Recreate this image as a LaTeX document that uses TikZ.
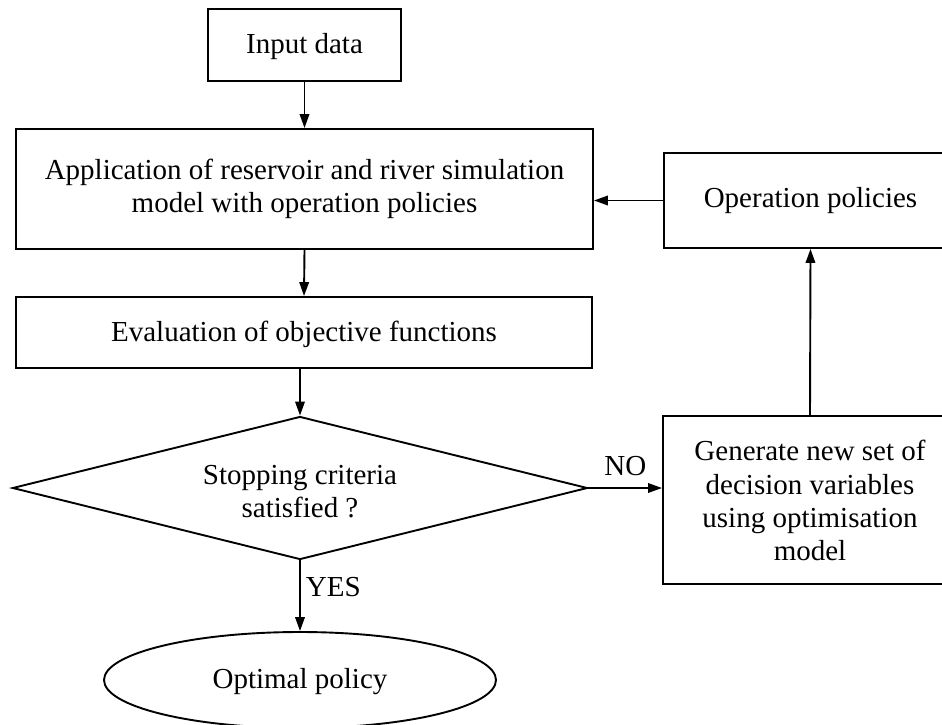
\documentclass[tikz,border=0pt]{standalone}
\usepackage{fontspec}
\setmainfont{Liberation Serif}
\usetikzlibrary{shapes.geometric,arrows.meta}
\tikzset{
  every node/.style={font=\fontsize{29}{33.3}\selectfont},
  box/.style={draw, line width=1.9pt, rectangle, align=center, inner sep=0pt},
  dia/.style={draw, line width=1.9pt, diamond, aspect=4, align=center, inner sep=0pt},
  oval/.style={draw, line width=1.9pt, ellipse, inner sep=0pt},
  flow/.style={line width=1.9pt, -{Triangle[length=14pt,width=9.5pt]}},
  lbl/.style={inner sep=0pt}
}
\begin{document}
\begin{tikzpicture}[x=1pt,y=-1pt]
\useasboundingbox (0,0) rectangle (942,724);
\fill[white] (0,0) rectangle (942,724);
\node[box, minimum width=193pt, minimum height=72pt] (in) at (304.5,45) {\rule{0pt}{24pt}Input data};
\node[box, minimum width=577pt, minimum height=120pt] (app) at (304.5,189) {Application of reservoir and river simulation\\model with operation policies};
\node[box, minimum width=576pt, minimum height=71pt] (eval) at (304,332.5) {\rule{0pt}{25pt}Evaluation of objective functions};
\node[dia, minimum width=575pt, minimum height=143pt] (stop) at (300,488) {\rule{0pt}{27pt}Stopping criteria\\satisfied ?};
\node[oval, minimum width=392pt, minimum height=96pt] (opt) at (300,680) {\rule{0pt}{24pt}Optimal policy};
\node[box, minimum width=293pt, minimum height=95pt] (op) at (810.5,200.5) {Operation policies};
\node[box, minimum width=294pt, minimum height=168pt] (gen) at (810,500) {\rule{0pt}{22pt}Generate new set of\\decision variables\\using optimisation\\model};
\draw[flow] (in.south) -- (app.north);
\draw[flow] (app.south) -- (eval.north);
\draw[flow] (stop.north |- eval.south) -- (stop.north);
\draw[flow] (stop.east) -- node[lbl, above=11pt] {NO} (gen.west |- stop.east);
\draw[flow] (stop.south) -- node[lbl, right=5pt, pos=0.38] {YES} (opt.north);
\draw[flow] (gen.north) -- (op.south);
\draw[flow] (op.west) -- (app.east |- op.west);
\end{tikzpicture}
\end{document}
